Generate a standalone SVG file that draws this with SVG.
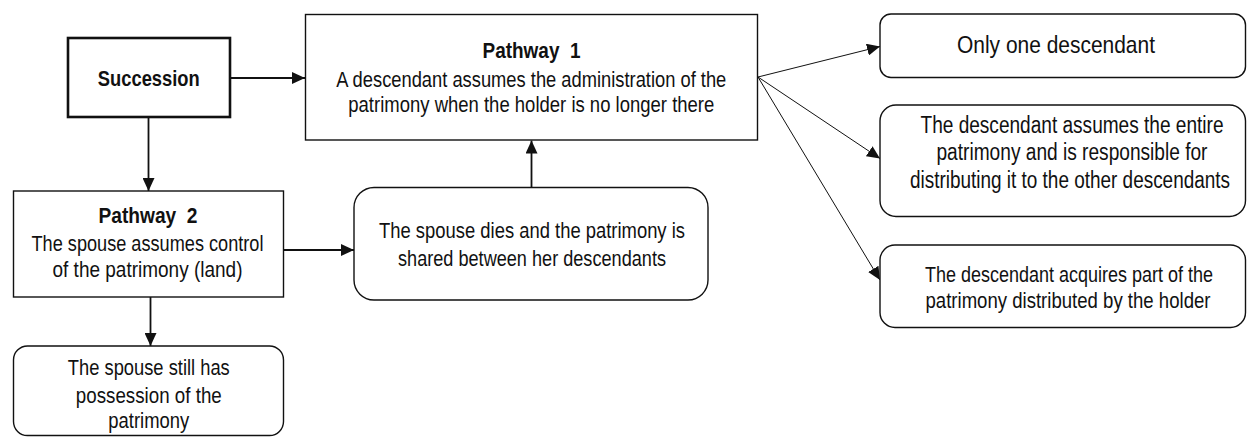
<svg xmlns="http://www.w3.org/2000/svg" width="1248" height="437" viewBox="0 0 1248 437">
<defs>
<style>
text{font-family:"Liberation Sans",Arial,sans-serif;font-size:22px;fill:#111;text-anchor:middle}
.b{font-weight:bold}
.box{fill:#fff;stroke:#111;stroke-width:1.4}
.thick{fill:#fff;stroke:#111;stroke-width:2.6}
.c{fill:none;stroke:#111;stroke-width:1.8}
.d{fill:none;stroke:#111;stroke-width:1}
</style>
<marker id="ah" viewBox="0 0 13 12" refX="13" refY="6" markerWidth="13" markerHeight="12" markerUnits="userSpaceOnUse" orient="auto">
<path d="M0,0 L13,6 L0,12 z" fill="#111"/>
</marker>
</defs>
<g id="connectors">
<line class="c" x1="231" y1="78" x2="305" y2="78" marker-end="url(#ah)"/>
<line class="c" x1="148.5" y1="118" x2="148.5" y2="191" marker-end="url(#ah)"/>
<line class="c" x1="283.5" y1="250" x2="354" y2="250" marker-end="url(#ah)"/>
<line class="c" x1="150.5" y1="297" x2="150.5" y2="346" marker-end="url(#ah)"/>
<line class="c" x1="531.5" y1="187.5" x2="531.5" y2="140.5" marker-end="url(#ah)"/>
<line class="d" x1="758" y1="77" x2="880" y2="46.5" marker-end="url(#ah)"/>
<line class="d" x1="758" y1="77" x2="880" y2="158.5" marker-end="url(#ah)"/>
<line class="d" x1="758" y1="77" x2="880" y2="280" marker-end="url(#ah)"/>
</g>
<g id="succession">
<rect class="thick" x="68" y="38" width="162" height="79"/>
<g transform="scale(0.82,1)">
<text class="b" x="181.46" y="86" textLength="124.39" lengthAdjust="spacingAndGlyphs">Succession</text>
</g>
</g>
<g id="pathway1">
<rect class="box" x="305.5" y="14.5" width="452" height="125.5"/>
<g transform="scale(0.82,1)">
<text class="b" x="648.17" y="58" word-spacing="6" textLength="119.51" lengthAdjust="spacingAndGlyphs">Pathway 1</text>
<text x="647.93" y="87" textLength="475.61" lengthAdjust="spacingAndGlyphs">A descendant assumes the administration of the</text>
<text x="647.93" y="112" textLength="446.34" lengthAdjust="spacingAndGlyphs">patrimony when the holder is no longer there</text>
</g>
</g>
<g id="pathway2">
<rect class="box" x="13.5" y="191" width="270" height="106"/>
<g transform="scale(0.82,1)">
<text class="b" x="180.49" y="223" word-spacing="6" textLength="120.73" lengthAdjust="spacingAndGlyphs">Pathway 2</text>
<text x="179.88" y="251" textLength="282.93" lengthAdjust="spacingAndGlyphs">The spouse assumes control</text>
<text x="179.88" y="277" textLength="231.71" lengthAdjust="spacingAndGlyphs">of the patrimony (land)</text>
</g>
</g>
<g id="spouse-dies">
<rect class="box" x="354" y="187.5" width="354" height="112.5" rx="20"/>
<g transform="scale(0.82,1)">
<text x="648.78" y="238" style="font-size:22.5px" textLength="373.17" lengthAdjust="spacingAndGlyphs">The spouse dies and the patrimony is</text>
<text x="648.78" y="266.5" style="font-size:22.5px" textLength="326.83" lengthAdjust="spacingAndGlyphs">shared between her descendants</text>
</g>
</g>
<g id="spouse-still">
<rect class="box" x="13.5" y="346" width="270" height="89.5" rx="14"/>
<g transform="scale(0.82,1)">
<text x="181.46" y="375" textLength="197.56" lengthAdjust="spacingAndGlyphs">The spouse still has</text>
<text x="181.46" y="403" textLength="178.05" lengthAdjust="spacingAndGlyphs">possession of the</text>
<text x="181.46" y="428" textLength="98.78" lengthAdjust="spacingAndGlyphs">patrimony</text>
</g>
</g>
<g id="only-one">
<rect class="box" x="880" y="14" width="365.5" height="63.5" rx="11"/>
<g transform="scale(0.82,1)">
<text x="1287.80" y="52.7" style="font-size:24px" textLength="241.46" lengthAdjust="spacingAndGlyphs">Only one descendant</text>
</g>
</g>
<g id="entire">
<rect class="box" x="880" y="105" width="365.5" height="111.5" rx="16"/>
<g transform="scale(0.82,1)">
<text x="1307.32" y="133.3" style="font-size:23px" textLength="369.51" lengthAdjust="spacingAndGlyphs">The descendant assumes the entire</text>
<text x="1307.32" y="160.5" style="font-size:23px" textLength="330.49" lengthAdjust="spacingAndGlyphs">patrimony and is responsible for</text>
<text x="1304.88" y="188" style="font-size:23px" textLength="390.24" lengthAdjust="spacingAndGlyphs">distributing it to the other descendants</text>
</g>
</g>
<g id="part">
<rect class="box" x="880" y="245" width="365.5" height="82.5" rx="15"/>
<g transform="scale(0.82,1)">
<text x="1303.66" y="281.7" style="font-size:22.7px" textLength="351.22" lengthAdjust="spacingAndGlyphs">The descendant acquires part of the</text>
<text x="1302.44" y="308.3" style="font-size:22.7px" textLength="347.56" lengthAdjust="spacingAndGlyphs">patrimony distributed by the holder</text>
</g>
</g>
</svg>
